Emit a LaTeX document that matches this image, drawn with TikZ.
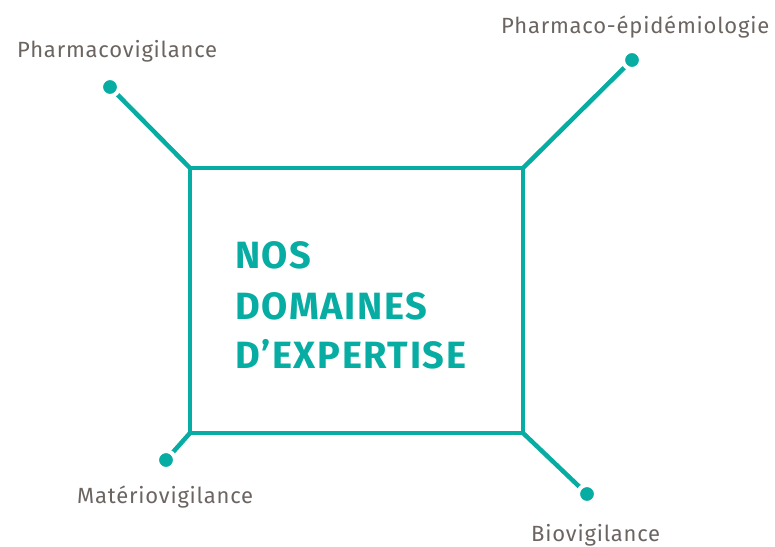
\documentclass[tikz,border=0pt]{standalone}
\usepackage{fontspec}
\setmainfont{Fira Sans}
\newfontfamily\labelfont[LetterSpace=3.6]{Fira Sans}
\newfontfamily\titlefont[LetterSpace=4.2]{Fira Sans}
\definecolor{teal}{HTML}{07ACA2}
\definecolor{labelgray}{HTML}{6B6461}
\begin{document}
\begin{tikzpicture}[x=1pt,y=-1pt,
  frame/.style={draw=teal,line width=4.5pt},
  leg/.style={draw=teal,line width=4.5pt},
  dot/.style={circle,fill=teal,draw=white,line width=4pt,minimum size=18pt,inner sep=0pt},
  lbl/.style={anchor=base west,inner sep=0pt,text=labelgray,font=\labelfont\fontsize{22}{24}\selectfont},
  title/.style={anchor=base west,inner sep=0pt,text=teal,font=\titlefont\fontsize{38}{40}\selectfont\bfseries}]
\useasboundingbox (0,0) rectangle (775,546);
% central frame and its corners
\coordinate (tl) at (190,168);
\coordinate (tr) at (523,168);
\coordinate (bl) at (190,433);
\coordinate (br) at (523,433);
\draw[frame] (tl) -- (tr) -- (br) -- (bl) -- cycle;
% legs ending in dots
\draw[leg] (tl) -- (110,87) coordinate (e1);
\draw[leg] (tr) -- (632,60) coordinate (e2);
\draw[leg] (bl) -- (166,460) coordinate (e3);
\draw[leg] (br) -- (587,494) coordinate (e4);
\node[dot] (d1) at (e1) {};
\node[dot] (d2) at (e2) {};
\node[dot] (d3) at (e3) {};
\node[dot] (d4) at (e4) {};
% labels
\node[lbl] (l1) at (17,57) {Pharmacovigilance};
\node[lbl] (l2) at (501,33) {Pharmaco-épidémiologie};
\node[lbl] (l3) at (77,503) {Matériovigilance};
\node[lbl] (l4) at (531,541) {Biovigilance};
% title
\node[title] (t1) at (235,268) {NOS};
\node[title] (t2) at (235,319) {DOMAINES};
\node[title] (t3) at (235,368) {D’EXPERTISE};
\end{tikzpicture}
\end{document}
